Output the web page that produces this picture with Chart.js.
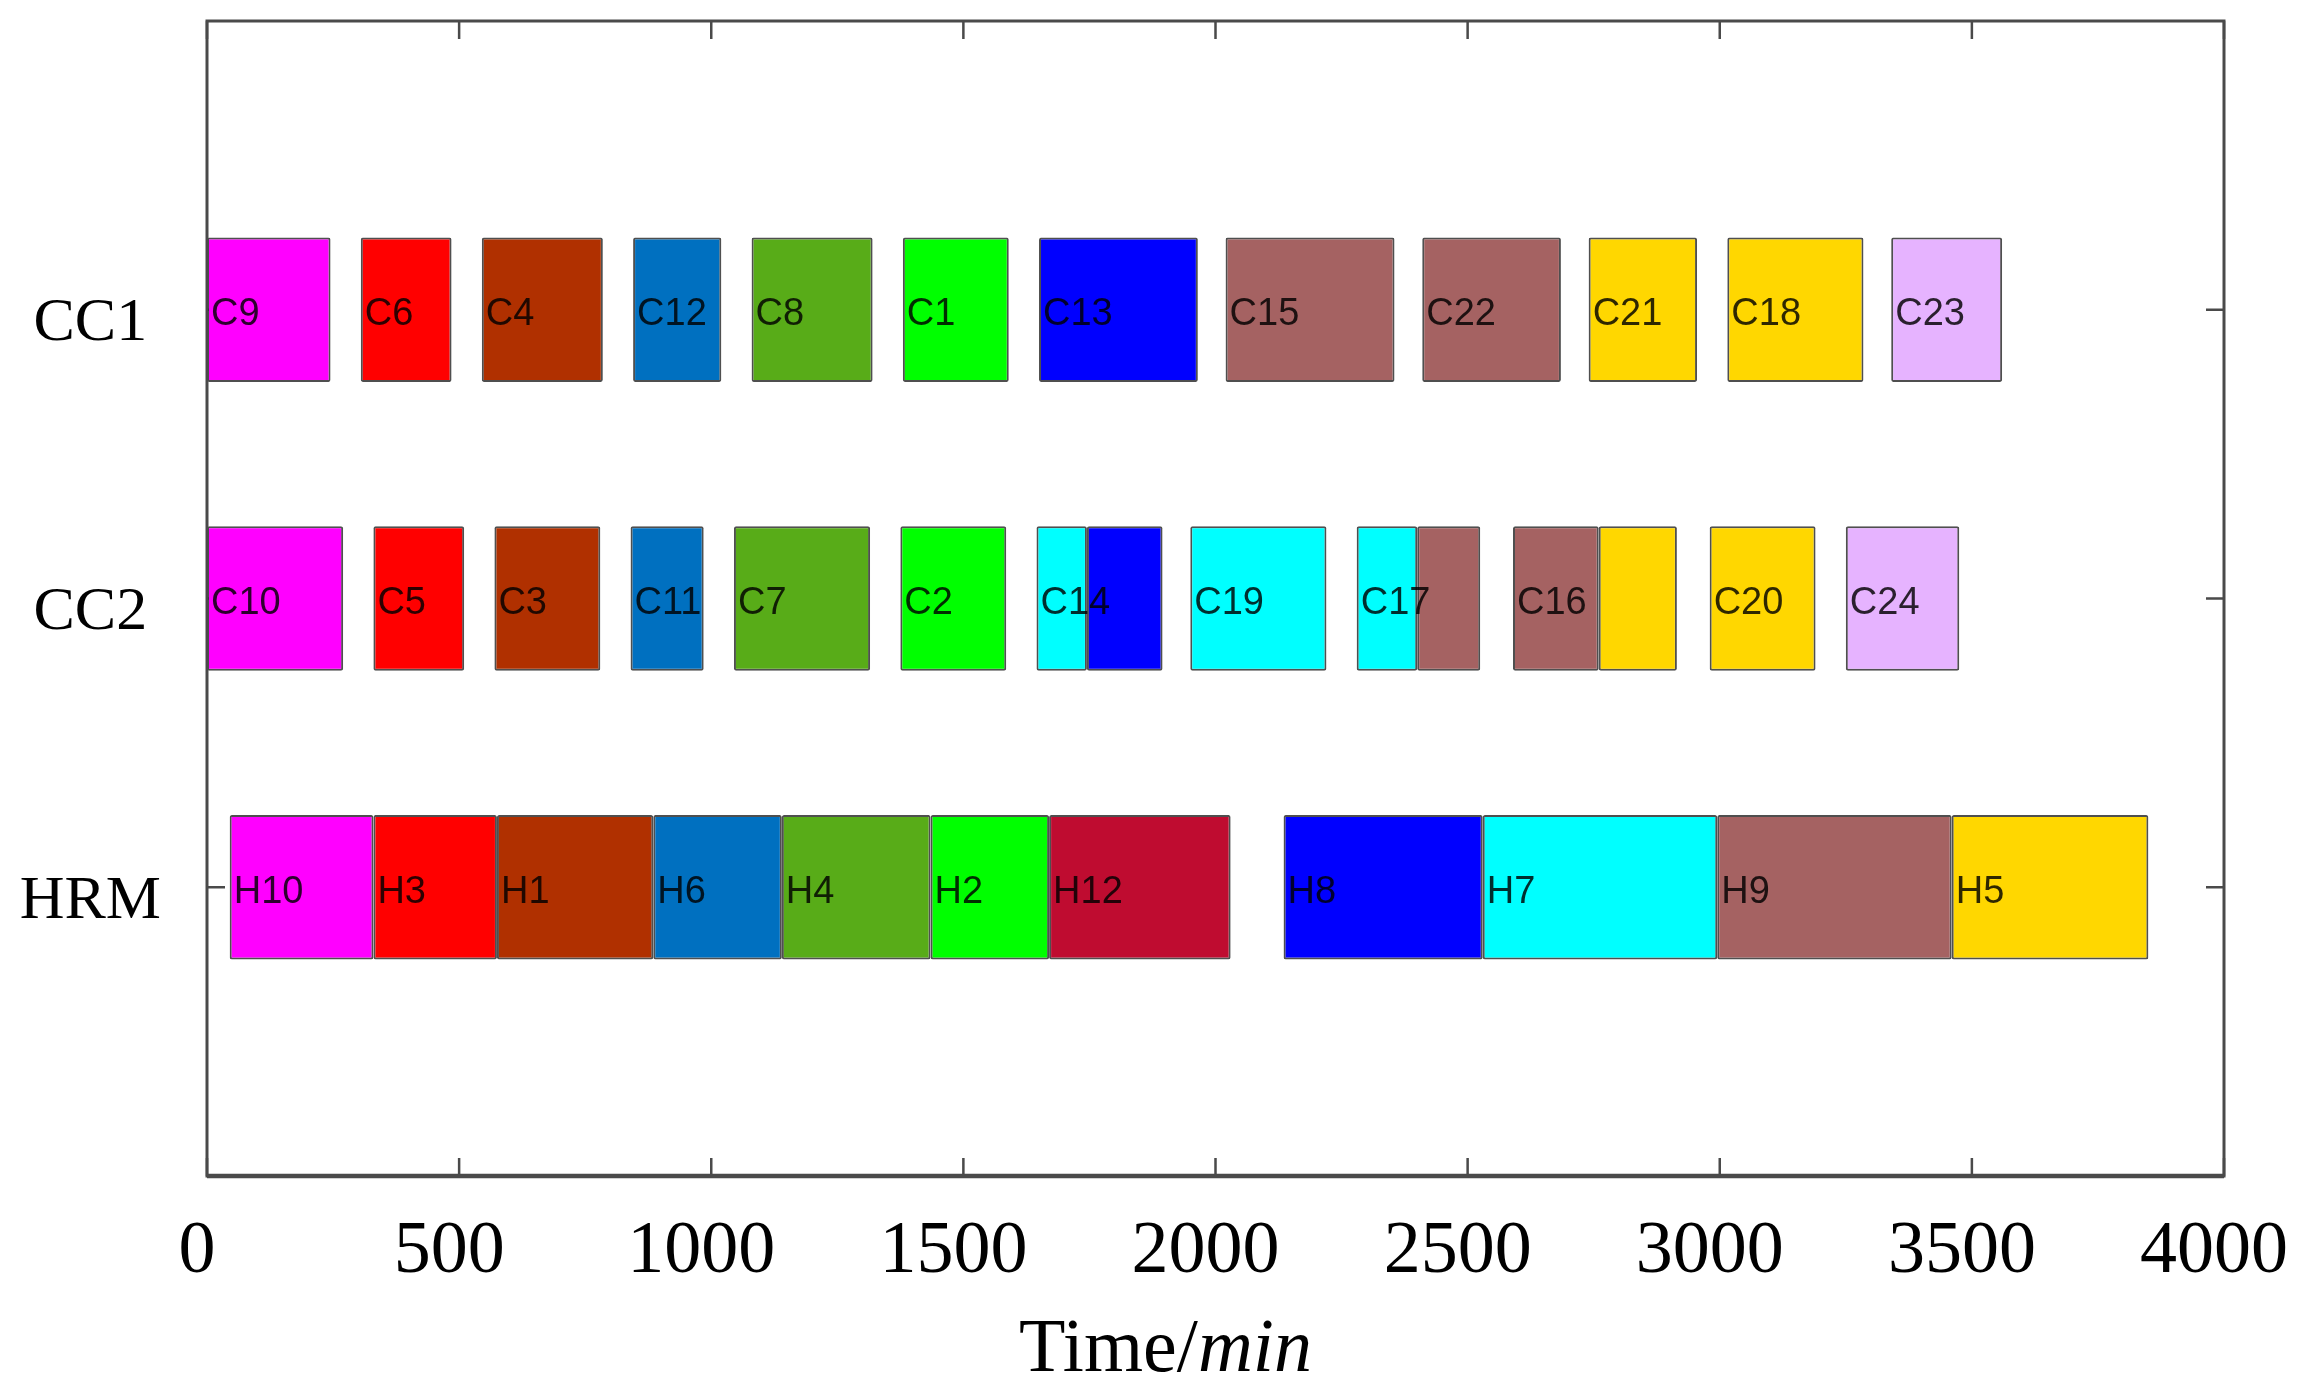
<!DOCTYPE html>
<html>
<head>
<meta charset="utf-8">
<script src="https://cdn.jsdelivr.net/npm/chart.js@4.4.1/dist/chart.umd.min.js"></script>
<style>
	html, body { margin: 0; padding: 0; background: #fff; }
	canvas { display: block; }
</style>
</head>
<body>
<canvas id="gantt" width="2314" height="1396"></canvas>
<script>
// rows of the schedule (top to bottom), padded so rows sit at 1..3 of 0..4
var rows = ["CC1", "CC2", "HRM"];
var yLabels = [""].concat(rows, [""]);
var xTicks = [0, 500, 1000, 1500, 2000, 2500, 3000, 3500, 4000];

// CC1 casts
var cc1Names = ["C9", "C6", "C4", "C12", "C8", "C1", "C13", "C15", "C22", "C21", "C18", "C23"];
var cc1Start = [0, 305, 545, 845, 1080, 1380, 1650, 2020, 2410, 2740, 3015, 3340];
var cc1End = [245, 485, 785, 1020, 1320, 1590, 1965, 2355, 2685, 2955, 3285, 3560];
var cc1Heat = ["H10", "H3", "H1", "H6", "H4", "H2", "H8", "H9", "H9", "H5", "H5", "H11"];

// CC2 casts (split casts are two segments, the second one without a name)
var cc2Names = ["C10", "C5", "C3", "C11", "C7", "C2", "C14", "", "C19", "C17", "", "C16", "", "C20", "C24"];
var cc2Start = [0, 330, 570, 840, 1045, 1375, 1645, 1745, 1950, 2280, 2400, 2590, 2760, 2980, 3250];
var cc2End = [270, 510, 780, 985, 1315, 1585, 1745, 1895, 2220, 2400, 2525, 2760, 2915, 3190, 3475];
var cc2Heat = ["H10", "H3", "H1", "H6", "H4", "H2", "H7", "H8", "H7", "H7", "H9", "H9", "H5", "H5", "H11"];

// hot rolling mill heats
var hrmNames = ["H10", "H3", "H1", "H6", "H4", "H2", "H12", "H8", "H7", "H9", "H5"];
var hrmStart = [45, 330, 575, 885, 1140, 1435, 1670, 2135, 2530, 2995, 3460];
var hrmEnd = [330, 575, 885, 1140, 1435, 1670, 2030, 2530, 2995, 3460, 3850];

var heatColors = {
	H10: "#FF00FF",
	H3: "#FF0000",
	H1: "#B03000",
	H6: "#0070C0",
	H4: "#58AC18",
	H2: "#00FF00",
	H12: "#BF0C30",
	H8: "#0000FF",
	H7: "#00FFFF",
	H9: "#A56262",
	H5: "#FFD700",
	H11: "#E6B3FF"
};

var points = [];
var colors = [];

function addRow(row, names, starts, ends, heats) {
	for (var i = 0; i < names.length; i++) {
		points.push({ y: row, x: [starts[i], ends[i]], name: names[i] });
		colors.push(heatColors[heats[i]]);
	}
}
addRow("CC1", cc1Names, cc1Start, cc1End, cc1Heat);
addRow("CC2", cc2Names, cc2Start, cc2End, cc2Heat);
addRow("HRM", hrmNames, hrmStart, hrmEnd, hrmNames);

var serif = "'Liberation Serif', 'Times New Roman', serif";
var sans = "'Liberation Sans', Arial, sans-serif";

// inward ticks on all four sides, drawn under the bars
var innerTicks = {
	id: "innerTicks",
	beforeDatasetsDraw: function (chart) {
		var ctx = chart.ctx, a = chart.chartArea;
		var x = chart.scales.x, y = chart.scales.y;
		var len = 18;
		ctx.save();
		ctx.strokeStyle = "#4a4a4a";
		ctx.lineWidth = 2.5;
		ctx.beginPath();
		xTicks.forEach(function (t) {
			var px = x.getPixelForValue(t);
			ctx.moveTo(px, a.bottom); ctx.lineTo(px, a.bottom - len);
			ctx.moveTo(px, a.top); ctx.lineTo(px, a.top + len);
		});
		rows.forEach(function (r) {
			var py = y.getPixelForValue(yLabels.indexOf(r));
			ctx.moveTo(a.left, py); ctx.lineTo(a.left + len, py);
			ctx.moveTo(a.right, py); ctx.lineTo(a.right - len, py);
		});
		ctx.stroke();
		ctx.restore();
	}
};

// names written inside the bars
var barNames = {
	id: "barNames",
	afterDatasetsDraw: function (chart) {
		var ctx = chart.ctx;
		var meta = chart.getDatasetMeta(0);
		ctx.save();
		ctx.font = "38px " + sans;
		ctx.fillStyle = "rgba(0,0,0,0.82)";
		ctx.textAlign = "left";
		ctx.textBaseline = "middle";
		meta.data.forEach(function (bar, i) {
			var name = points[i].name;
			if (!name) return;
			ctx.fillText(name, Math.min(bar.x, bar.base) + 4, bar.y + 5);
		});
		ctx.restore();
	}
};

// box around the plot and the x axis title with italic unit
var frameAndTitle = {
	id: "frameAndTitle",
	afterDraw: function (chart) {
		var ctx = chart.ctx, a = chart.chartArea;
		ctx.save();
		ctx.strokeStyle = "#4a4a4a";
		ctx.lineWidth = 3;
		ctx.strokeRect(a.left, a.top, a.width, a.height);
		ctx.lineWidth = 4.5;
		ctx.beginPath();
		ctx.moveTo(a.left, a.bottom); ctx.lineTo(a.right, a.bottom);
		ctx.stroke();

		var part1 = "Time/", part2 = "min";
		ctx.fillStyle = "#000";
		ctx.textBaseline = "middle";
		ctx.font = "76px " + serif;
		var w1 = ctx.measureText(part1).width;
		ctx.font = "italic 76px " + serif;
		var w2 = ctx.measureText(part2).width;
		var left = (a.left + a.right) / 2 - 50 - (w1 + w2) / 2;
		var ty = a.bottom + 175;
		ctx.font = "76px " + serif;
		ctx.fillText(part1, left, ty);
		ctx.font = "italic 76px " + serif;
		ctx.fillText(part2, left + w1, ty);
		ctx.restore();
	}
};

var chart = new Chart(document.getElementById("gantt").getContext("2d"), {
	type: "bar",
	data: {
		datasets: [{
			data: points,
			backgroundColor: colors,
			borderColor: "rgba(35,35,35,0.8)",
			borderWidth: 2,
			borderSkipped: false,
			borderRadius: 2,
			categoryPercentage: 1,
			barPercentage: 0.5
		}]
	},
	options: {
		indexAxis: "y",
		responsive: false,
		devicePixelRatio: 1,
		animation: false,
		layout: { padding: { top: 21, right: 90, left: 0, bottom: 0 } },
		plugins: {
			legend: { display: false },
			tooltip: { enabled: false }
		},
		scales: {
			x: {
				type: "linear",
				min: 0,
				max: 4000,
				grid: { display: false, drawTicks: false },
				border: { display: false },
				afterBuildTicks: function (scale) {
					scale.ticks = xTicks.map(function (v) { return { value: v }; });
				},
				afterFit: function (scale) {
					scale.height = 220;
					scale.paddingLeft = 0;
					scale.paddingRight = 0;
				},
				ticks: {
					padding: 32,
					labelOffset: -10,
					color: "#000",
					maxRotation: 0,
					font: { family: serif, size: 74 },
					callback: function (v) { return String(v); }
				}
			},
			y: {
				type: "category",
				labels: yLabels,
				offset: false,
				grid: { display: false, drawTicks: false },
				border: { display: false },
				afterFit: function (scale) {
					scale.width = 207;
					scale.paddingTop = 0;
					scale.paddingBottom = 0;
				},
				ticks: {
					autoSkip: false,
					crossAlign: "center",
					padding: 46,
					labelOffset: 14,
					color: "#000",
					font: { family: serif, size: 62 }
				}
			}
		}
	},
	plugins: [innerTicks, barNames, frameAndTitle]
});

window.chart = chart;
</script>
</body>
</html>
